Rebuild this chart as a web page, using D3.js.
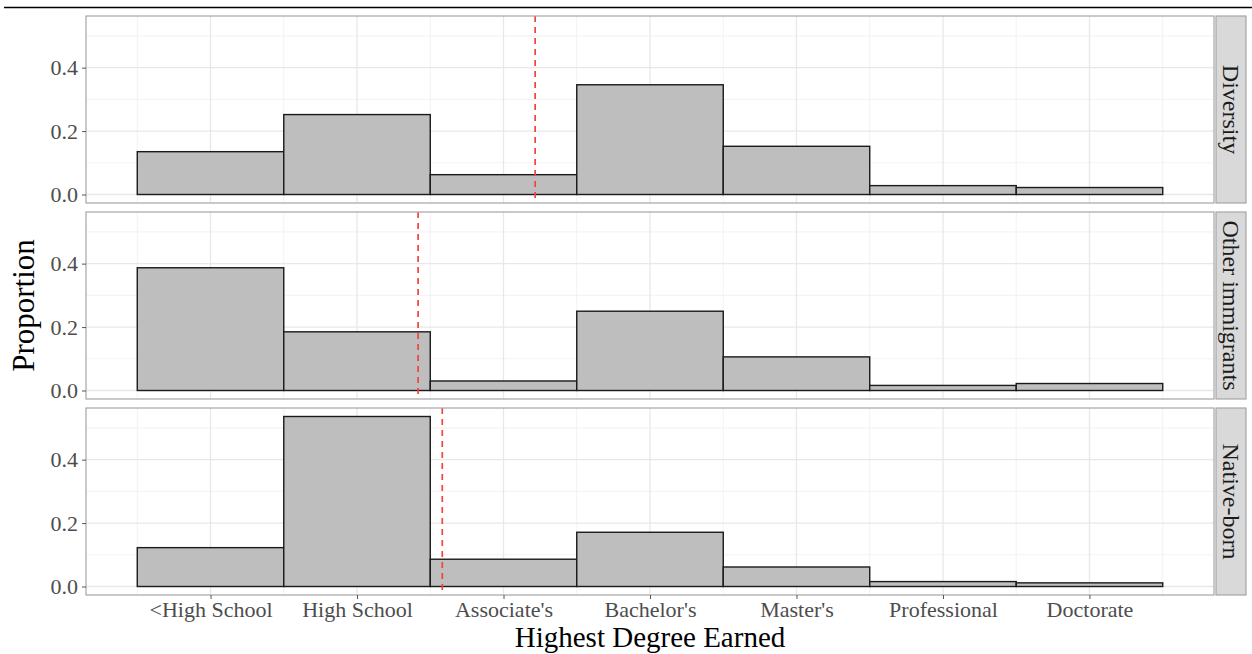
<!DOCTYPE html>
<html><head><meta charset="utf-8">
<script src="https://cdn.jsdelivr.net/npm/d3@7"></script>
<style>body{margin:0;background:#fff;} svg{display:block;}</style>
</head><body>
<svg id="chart" width="1252" height="654"></svg>
<script>
const categories = ["<High School","High School","Associate's","Bachelor's","Master's","Professional","Doctorate"];
const groups = ["Diversity","Other immigrants","Native-born"];
const diversity = [0.135, 0.252, 0.0625, 0.346, 0.152, 0.028, 0.022];
const otherImmigrants = [0.387, 0.185, 0.030, 0.250, 0.106, 0.016, 0.022];
const nativeBorn = [0.1225, 0.536, 0.086, 0.171, 0.0615, 0.0155, 0.0115];
const means = [3.216, 2.417, 2.582];
const yTicks = [0.0, 0.2, 0.4];
const yMinor = [0.1, 0.3, 0.5];

const series = [diversity, otherImmigrants, nativeBorn];
const svg = d3.select("#chart");
const W = 1252, H = 654;
const left = 86, right = 1214, top0 = 16, pH = 187, gap = 9;
const stripX = 1216, stripW = 30;
const serif = "'Liberation Serif', 'DejaVu Serif', serif";

svg.append("rect").attr("width", W).attr("height", H).attr("fill", "#fff");
svg.append("line").attr("x1", 4).attr("x2", W).attr("y1", 7.5).attr("y2", 7.5)
  .attr("stroke", "#000").attr("stroke-width", 1.5);

const n = categories.length;
const x = d3.scaleLinear().domain([0.5 - 0.05 * n, n + 0.5 + 0.05 * n]).range([left, right]);
const ymax = d3.max(series.flat());
const ypad = 0.05 * ymax;

series.forEach((vals, gi) => {
  const pTop = top0 + gi * (pH + gap);
  const pBot = pTop + pH;
  const y = d3.scaleLinear().domain([-ypad, ymax + ypad]).range([pBot, pTop]);
  const g = svg.append("g");
  // minor grid
  yMinor.forEach(v => g.append("line").attr("x1", left).attr("x2", right)
    .attr("y1", y(v)).attr("y2", y(v)).attr("stroke", "#efefef").attr("stroke-width", 0.8));
  d3.range(0.5, n + 1, 1).forEach(v => g.append("line").attr("y1", pTop).attr("y2", pBot)
    .attr("x1", x(v)).attr("x2", x(v)).attr("stroke", "#efefef").attr("stroke-width", 0.8));
  // major grid
  yTicks.forEach(v => g.append("line").attr("x1", left).attr("x2", right)
    .attr("y1", y(v)).attr("y2", y(v)).attr("stroke", "#e8e8e8").attr("stroke-width", 1.3));
  d3.range(1, n + 1).forEach(v => g.append("line").attr("y1", pTop).attr("y2", pBot)
    .attr("x1", x(v)).attr("x2", x(v)).attr("stroke", "#e8e8e8").attr("stroke-width", 1.3));
  // bars
  g.selectAll("rect.bar").data(vals).enter().append("rect")
    .attr("x", (d, i) => x(i + 0.5))
    .attr("width", (d, i) => x(i + 1.5) - x(i + 0.5))
    .attr("y", d => y(d))
    .attr("height", d => y(0) - y(d))
    .attr("fill", "#bebebe").attr("stroke", "#1a1a1a").attr("stroke-width", 1.4);
  // mean line
  g.append("line").attr("x1", x(means[gi])).attr("x2", x(means[gi]))
    .attr("y1", pTop).attr("y2", pBot)
    .attr("stroke", "#f4433c").attr("stroke-width", 1.7).attr("stroke-dasharray", "6,5");
  // panel border
  g.append("rect").attr("x", left).attr("y", pTop).attr("width", right - left).attr("height", pH)
    .attr("fill", "none").attr("stroke", "#a6a6a6").attr("stroke-width", 1.2);
  // y axis
  const ax = d3.axisLeft(y).tickValues(yTicks).tickFormat(d3.format(".1f")).tickSize(4).tickPadding(4);
  const axg = g.append("g").attr("transform", `translate(${left},0)`).call(ax);
  axg.select(".domain").remove();
  axg.selectAll("line").attr("stroke", "#555");
  axg.selectAll("text").attr("font-family", serif).attr("font-size", 22).attr("fill", "#4d4d4d");
  // strip
  svg.append("rect").attr("x", stripX).attr("y", pTop).attr("width", stripW).attr("height", pH)
    .attr("fill", "#d9d9d9").attr("stroke", "#a6a6a6").attr("stroke-width", 1.2);
  svg.append("text").attr("transform", `translate(${stripX + stripW / 2},${pTop + pH / 2}) rotate(90)`)
    .attr("text-anchor", "middle").attr("dy", "0.35em")
    .attr("font-family", serif).attr("font-size", 24).attr("fill", "#1a1a1a")
    .text(groups[gi]);

  if (gi === series.length - 1) {
    const xa = d3.axisBottom(x).tickValues(d3.range(1, n + 1))
      .tickFormat(d => categories[d - 1]).tickSize(4).tickPadding(2);
    const xg = svg.append("g").attr("transform", `translate(0,${pBot})`).call(xa);
    xg.select(".domain").remove();
    xg.selectAll("line").attr("stroke", "#555");
    xg.selectAll("text").attr("font-family", serif).attr("font-size", 22).attr("fill", "#4d4d4d");
  }
});

svg.append("text").attr("x", (left + right) / 2).attr("y", 647).attr("text-anchor", "middle")
  .attr("font-family", serif).attr("font-size", 29).attr("fill", "#000").text("Highest Degree Earned");
svg.append("text").attr("transform", `translate(34,${top0 + (3 * pH + 2 * gap) / 2}) rotate(-90)`)
  .attr("text-anchor", "middle").attr("font-family", serif).attr("font-size", 31).attr("fill", "#000")
  .text("Proportion");
</script>
</body></html>
